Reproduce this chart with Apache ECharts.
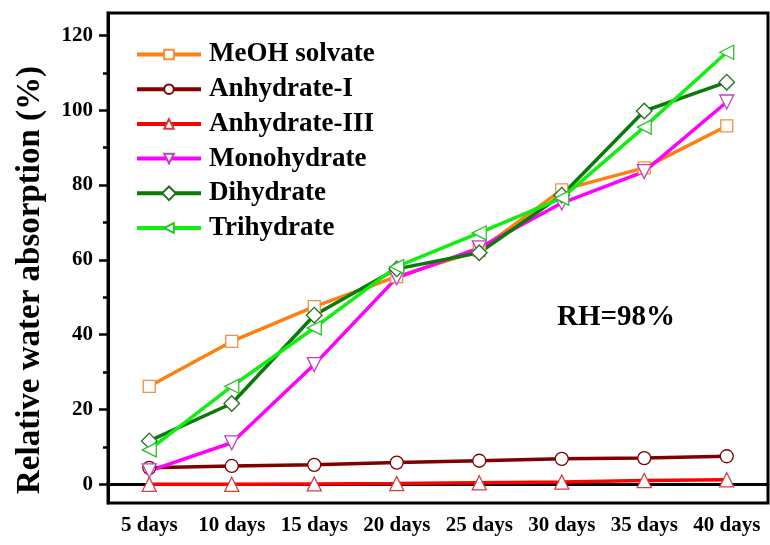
<!DOCTYPE html>
<html>
<head>
<meta charset="utf-8">
<script src="https://cdn.jsdelivr.net/npm/echarts@6/dist/echarts.min.js"></script>
<style>html,body{margin:0;padding:0;background:#fff}#c{width:770px;height:545px}</style>
</head>
<body>
<div id="c"></div>
<script>
var categories = ['5 days','10 days','15 days','20 days','25 days','30 days','35 days','40 days'];
var meoh = [26.2, 38.2, 47.5, 55.5, 62.5, 78.7, 84.6, 95.8];
var anhI = [4.4, 4.9, 5.2, 5.8, 6.3, 6.8, 7.0, 7.5];
var anhIII = [0, 0, 0.1, 0.2, 0.4, 0.6, 1.0, 1.2];
var mono = [3.6, 11.1, 32.0, 55.2, 63.2, 75.2, 83.6, 102.2];
var di = [11.6, 21.6, 45.2, 57.6, 61.9, 77.3, 99.8, 107.5];
var tri = [9.2, 26.2, 41.8, 58.2, 67.2, 76.5, 95.5, 115.5];
var majorTicks = [0, 20, 40, 60, 80, 100, 120];
var minorTicks = [10, 30, 50, 70, 90, 110];

var FONT = '"Liberation Serif","Times New Roman",serif';
function mk(name, data, color, border, symbol, rot, size) {
  return {
    name: name, type: 'line', data: data,
    symbol: symbol, symbolSize: size, symbolRotate: rot,
    lineStyle: {color: color, width: 3.5},
    itemStyle: {color: '#fff', borderColor: border, borderWidth: 1.3},
    emphasis: {disabled: true},
    animation: false
  };
}
var chart = echarts.init(document.getElementById('c'));
chart.setOption({
  backgroundColor: '#fff',
  animation: false,
  grid: {left: 108, right: 2, top: 13, bottom: 42, show: true, borderColor: '#000', borderWidth: 3},
  legend: {
    orient: 'vertical', left: 135, top: 41, padding: 0, itemWidth: 64, itemHeight: 12, itemGap: 7.7,
    lineStyle: {width: 4},
    textStyle: {fontFamily: FONT, fontWeight: 'bold', fontSize: 27, color: '#000', lineHeight: 26, padding: [0,0,0,3]},
    data: ['MeOH solvate','Anhydrate-I','Anhydrate-III','Monohydrate','Dihydrate','Trihydrate']
  },
  xAxis: {
    type: 'category', data: categories, boundaryGap: true,
    axisLine: {lineStyle: {color: '#000', width: 3}},
    axisTick: {alignWithLabel: true, length: 8, lineStyle: {color: '#000', width: 3}},
    axisLabel: {interval: 0, fontFamily: FONT, fontWeight: 'bold', fontSize: 21, color: '#000', margin: 12}
  },
  yAxis: [{
    type: 'value', min: -5, max: 126,
    splitLine: {show: false},
    axisLine: {show: true, lineStyle: {color: '#000', width: 3}},
    axisTick: {show: true, length: 9, customValues: majorTicks, lineStyle: {color: '#000', width: 2.5}},
    axisLabel: {customValues: majorTicks, fontFamily: FONT, fontWeight: 'bold', fontSize: 21, color: '#000', margin: 15}
  }, {
    type: 'value', min: -5, max: 126, position: 'left',
    splitLine: {show: false},
    axisLine: {show: false},
    axisTick: {show: true, length: 5, customValues: minorTicks, lineStyle: {color: '#000', width: 2.5}},
    axisLabel: {show: false}
  }],
  graphic: [{
    type: 'text', x: 30, y: 280, rotation: Math.PI / 2,
    style: {text: 'Relative water absorption (%)', font: 'bold 33px ' + FONT, fill: '#000', align: 'center', verticalAlign: 'middle'}
  }, {
    type: 'text', x: 557, y: 318,
    style: {text: 'RH=98%', font: 'bold 29px ' + FONT, fill: '#000', align: 'left', verticalAlign: 'middle'}
  }],
  series: [
    mk('MeOH solvate', meoh, '#FF8010', '#F09040', 'rect', 0, 12),
    mk('Anhydrate-I', anhI, '#800000', '#800000', 'circle', 0, 13),
    mk('Anhydrate-III', anhIII, '#FF0000', '#D04040', 'triangle', 0, 14),
    mk('Monohydrate', mono, '#FF00FF', '#C040C0', 'triangle', 180, 14),
    mk('Dihydrate', di, '#0A7A0A', '#207020', 'rect', 45, 11),
    mk('Trihydrate', tri, '#10F010', '#30C030', 'triangle', 90, 14)
  ]
});
</script>
</body>
</html>
